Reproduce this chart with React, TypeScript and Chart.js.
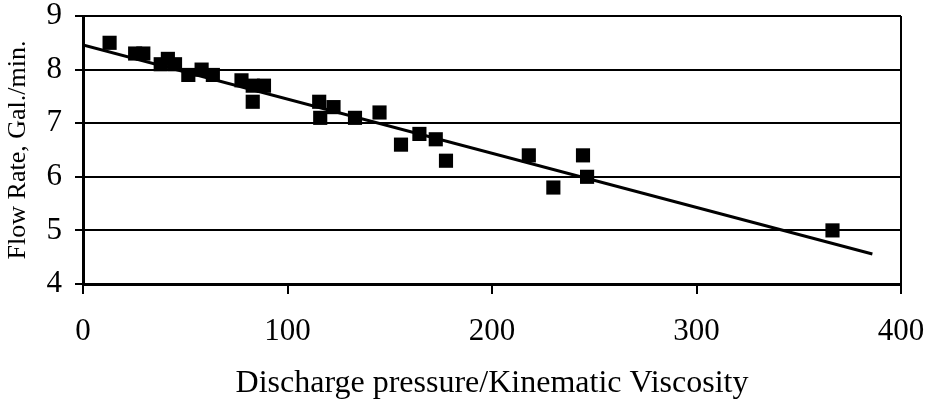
import React, { useEffect, useRef } from "react";
import { Chart, registerables } from "chart.js";

Chart.register(...registerables);

const xValues = [13, 25.5, 29.5, 38, 41.5, 45, 51.5, 58, 63.5, 77.5, 83, 88.5, 83, 115.5, 116, 122.5, 133, 145, 155.5, 164.5, 172.5, 177.5, 218, 230, 244.5, 246.5, 366.5];
const yValues = [8.5, 8.3, 8.3, 8.1, 8.2, 8.1, 7.9, 8.0, 7.9, 7.8, 7.7, 7.7, 7.4, 7.4, 7.1, 7.3, 7.1, 7.2, 6.6, 6.8, 6.7, 6.3, 6.4, 5.8, 6.4, 6.0, 5.0];
const trendX = [0, 386];
const trendY = [8.46, 4.56];
const xTicks = [0, 100, 200, 300, 400];
const yTicks = [4, 5, 6, 7, 8, 9];

const FONT = "'Liberation Serif', 'Times New Roman', serif";

export default function App() {
  const ref = useRef<HTMLCanvasElement | null>(null);

  useEffect(() => {
    if (!ref.current) return;
    const chart = new Chart(ref.current, {
      type: "scatter",
      data: {
        datasets: [
          {
            type: "line",
            data: trendX.map((x, i) => ({ x, y: trendY[i] })),
            borderColor: "#000",
            borderWidth: 3,
            pointRadius: 0,
            fill: false,
            order: 2,
          },
          {
            data: xValues.map((x, i) => ({ x, y: yValues[i] })),
            pointStyle: "rect",
            pointRadius: 10,
            backgroundColor: "#000",
            borderColor: "#000",
            borderWidth: 0,
            order: 1,
          },
        ],
      },
      options: {
        animation: false,
        responsive: false,
        maintainAspectRatio: false,
        layout: { padding: { left: 0, right: 25, top: 16, bottom: 0 } },
        plugins: { legend: { display: false }, tooltip: { enabled: false } },
        scales: {
          x: {
            type: "linear",
            min: 0,
            max: 400,
            afterBuildTicks: (s: any) => {
              s.ticks = xTicks.map((v) => ({ value: v }));
            },
            afterFit: (s: any) => {
              s.height = 120;
              s.paddingLeft = 0;
              s.paddingRight = 0;
            },
            ticks: {
              color: "#000",
              font: { family: FONT, size: 31 },
              padding: 19,
              maxRotation: 0,
            },
            grid: {
              color: (c: any) => (c.tick && c.tick.value === 400 ? "#000" : "rgba(0,0,0,0)"),
              tickColor: "#000",
              lineWidth: 2,
              tickLength: 10,
              drawTicks: true,
            },
            border: { display: true, color: "#000", width: 3 },
            title: {
              display: true,
              text: "Discharge pressure/Kinematic Viscosity",
              color: "#000",
              font: { family: FONT, size: 32 },
              padding: { top: 0, bottom: 1 },
            },
          },
          y: {
            type: "linear",
            min: 4,
            max: 9,
            afterBuildTicks: (s: any) => {
              s.ticks = yTicks.map((v) => ({ value: v }));
            },
            afterFit: (s: any) => {
              s.width = 83;
              s.paddingTop = 0;
              s.paddingBottom = 0;
            },
            ticks: {
              color: "#000",
              font: { family: FONT, size: 31 },
              padding: 13,
            },
            grid: {
              color: "#000",
              tickColor: "#000",
              lineWidth: 2,
              tickLength: 8,
              drawTicks: true,
            },
            border: { display: true, color: "#000", width: 3 },
            title: {
              display: true,
              text: "Flow Rate, Gal./min.",
              color: "#000",
              font: { family: FONT, size: 26 },
              padding: { top: 3, bottom: 0 },
            },
          },
        },
      },
    });
    return () => chart.destroy();
  }, []);

  return (
    <div style={{ position: "fixed", left: 0, top: 0, width: 926, height: 404, background: "#fff" }}>
      <canvas ref={ref} width={926} height={404} style={{ display: "block", width: 926, height: 404 }} />
    </div>
  );
}
